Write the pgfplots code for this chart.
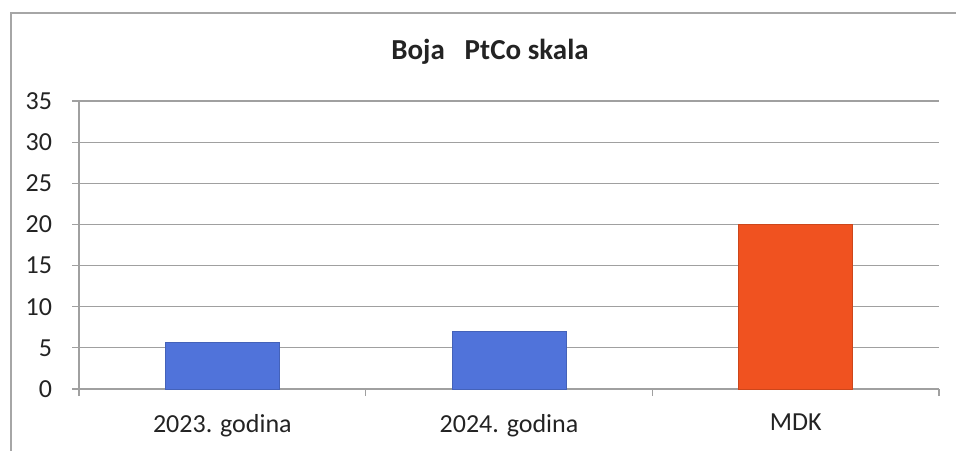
\documentclass[border=0pt]{standalone}
\usepackage{fontspec}
\setmainfont{Carlito}
\usepackage{pgfplots}
\pgfplotsset{compat=1.18}
\definecolor{barblue}{RGB}{80,115,218}
\definecolor{barred}{RGB}{240,82,32}
\definecolor{gridc}{RGB}{160,160,160}
\definecolor{txt}{RGB}{35,35,35}
\begin{document}
\begin{tikzpicture}
\useasboundingbox (0,0) rectangle (478pt,225pt);
\draw[gray!70, line width=0.8pt] (5.5pt,-2pt) -- (5.5pt,218.5pt) -- (480pt,218.5pt);
\node[font=\fontsize{14.5}{16}\selectfont\bfseries, text=txt] at (245pt,199pt) {Boja\ \ \ PtCo skala};
\begin{axis}[
  at={(39.5pt,30.5pt)}, anchor=south west,
  scale only axis, width=430pt, height=144pt,
  xmin=-0.5, xmax=2.5, ymin=0, ymax=35,
  ytick={0,5,...,35},
  xtick={0,1,2},
  xticklabels={2023. godina,2024. godina,MDK},
  minor xtick={-0.5,0.5,1.5,2.5},
  axis lines=left,
  axis line style={-, gridc, line width=0.7pt},
  ymajorgrids, grid style={gridc, line width=0.6pt},
  tick style={gridc, line width=0.6pt},
  major tick length=3.5pt, minor tick length=3.5pt,
  every major x tick/.append style={draw=none},
  tick align=outside,
  ticklabel style={font=\fontsize{13}{15}\selectfont, text=txt},
  /pgf/number format/assume math mode=true,
  xticklabel style={yshift=-5.5pt},
  every y tick label/.append style={anchor=east, xshift=-6.5pt},
  ybar, bar width=57pt, bar shift=0pt,
]
\addplot[fill=barblue, draw=barblue!85!black, line width=0.4pt] coordinates {(0,5.7) (1,7.0)};
\addplot[fill=barred, draw=barred!85!black, line width=0.4pt] coordinates {(2,20)};
\end{axis}
\end{tikzpicture}
\end{document}
